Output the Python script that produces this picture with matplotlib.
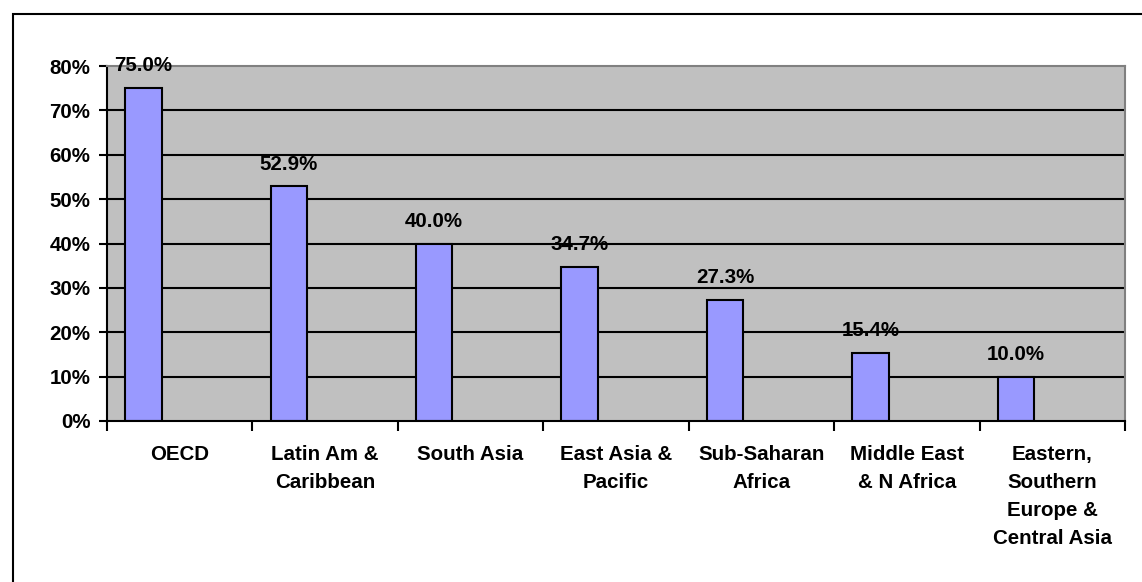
import matplotlib
matplotlib.use("Agg")
import matplotlib.pyplot as plt
from matplotlib.patches import Rectangle
from matplotlib.ticker import FixedLocator, PercentFormatter

regions = [
    "OECD",
    "Latin Am &\nCaribbean",
    "South Asia",
    "East Asia &\nPacific",
    "Sub-Saharan\nAfrica",
    "Middle East\n& N Africa",
    "Eastern,\nSouthern\nEurope &\nCentral Asia",
]
shares = [75.0, 52.9, 40.0, 34.7, 27.3, 15.4, 10.0]
y_ticks = [0, 10, 20, 30, 40, 50, 60, 70, 80]

plt.rcParams["font.family"] = ["Liberation Sans", "DejaVu Sans"]
plt.rcParams["font.weight"] = "bold"

W, H = 1142, 582
fig = plt.figure(figsize=(W / 100, H / 100), dpi=100)
fig.patch.set_facecolor("white")

# outer chart frame
fig.patches.append(Rectangle((13 / W, -0.1), 1.2, 1 - 14 / H + 0.1,
                             transform=fig.transFigure, fill=False,
                             edgecolor="black", linewidth=1.5))

left, right, top, bottom = 107, 1125, 66, 421
ax = fig.add_axes([left / W, 1 - bottom / H, (right - left) / W, (bottom - top) / H])
ax.set_facecolor("#C0C0C0")

n = len(regions)
ax.set_xlim(0, n)
ax.set_ylim(0, 80)

for yv in y_ticks[1:-1]:
    ax.axhline(yv, color="black", linewidth=1.5, zorder=1)

xpos = [i + 0.125 for i in range(n)]
bars = ax.bar(xpos, shares, width=0.25, align="edge", color="#9999FF",
              edgecolor="black", linewidth=1.5, zorder=2)

for b, v in zip(bars, shares):
    ax.annotate(f"{v:.1f}%", (b.get_x() + b.get_width() / 2, v),
                xytext=(0, 16), textcoords="offset points",
                ha="center", va="center", fontsize=14.8, fontweight="bold",
                annotation_clip=False, zorder=5)

for side in ("top", "right"):
    ax.spines[side].set_color("#808080")
    ax.spines[side].set_linewidth(1.5)
for side in ("left", "bottom"):
    ax.spines[side].set_color("black")
    ax.spines[side].set_linewidth(1.5)

ax.yaxis.set_major_locator(FixedLocator(y_ticks))
ax.yaxis.set_major_formatter(PercentFormatter(decimals=0))
ax.tick_params(axis="y", direction="out", length=6, width=1.5, pad=6,
               labelsize=14.8)
for t in ax.get_yticklabels():
    t.set_fontweight("bold")

ax.set_xticks(range(n + 1))
ax.set_xticklabels([])
ax.tick_params(axis="x", which="major", direction="out", length=7, width=1.5)
ax.set_xticks([i + 0.5 for i in range(n)], minor=True)
ax.set_xticklabels(regions, minor=True, fontsize=14.8, fontweight="bold",
                   linespacing=1.6)
ax.tick_params(axis="x", which="minor", length=0, pad=17)

fig.savefig("out.png", dpi=100, facecolor="white")
